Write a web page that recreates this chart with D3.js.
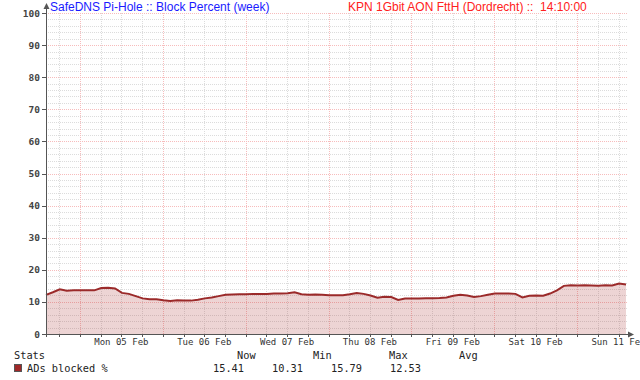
<!DOCTYPE html>
<html><head><meta charset="utf-8">
<script src="https://cdn.jsdelivr.net/npm/d3@7"></script>
<style>body{margin:0;background:#fff}svg{display:block}text{white-space:pre}</style>
</head><body>
<svg id="c" width="640" height="380"></svg>
<script>
const titleLeft = "SafeDNS Pi-Hole :: Block Percent (week)";
const titleRight = "KPN 1Gbit AON FttH (Dordrecht) ::  14:10:00";
const startTime = "2024-02-04T14:10:00Z";
const endTime = "2024-02-11T14:10:00Z";
const stepHours = 2;
// ADs blocked %, one reading every 2 hours from start
const blocked = [12.2,13.0,13.9,13.5,13.6,13.6,13.6,13.6,14.3,14.4,14.2,12.8,12.5,11.8,11.1,10.8,10.8,10.5,10.3,10.5,10.4,10.4,10.7,11.1,11.4,11.8,12.2,12.3,12.4,12.4,12.5,12.5,12.5,12.6,12.6,12.7,13.0,12.4,12.2,12.3,12.2,12.1,12.1,12.1,12.4,12.8,12.5,12.0,11.3,11.6,11.5,10.6,11.05,11.05,11.05,11.1,11.1,11.2,11.4,11.9,12.2,12.0,11.5,11.8,12.2,12.6,12.6,12.6,12.5,11.4,11.9,12.0,11.9,12.6,13.6,15.0,15.2,15.1,15.2,15.1,15.0,15.2,15.1,15.7,15.4];
const yTicks = [0,10,20,30,40,50,60,70,80,90,100];
const statHeaders = ["Now","Min","Max","Avg"];
const statValues = ["15.41","10.31","15.79","12.53"];
const legendLabel = "ADs blocked %";

const svg = d3.select("#c");
const L=46, R=626, T=13, B=334;
const t0 = new Date(startTime), t1 = new Date(endTime);
const x = d3.scaleUtc().domain([t0,t1]).range([L,R]);
const y = d3.scaleLinear().domain([0,100]).range([B,T]);
const data = blocked.map((v,i)=>({t:new Date(t0.getTime()+i*stepHours*3600e3), v}));

const mono = "DejaVu Sans Mono";
const minorCol = "#dcdcdc", majorCol = "#f7bcbc";
// grid
const g = svg.append("g");
const minorY = d3.range(0,101,2).filter(v=>v%10!==0);
g.selectAll(".my").data(minorY).join("line")
 .attr("x1",L).attr("x2",R+1).attr("y1",d=>Math.round(y(d))+0.5).attr("y2",d=>Math.round(y(d))+0.5)
 .attr("stroke",minorCol).attr("stroke-dasharray","1,1");
const minorX = d3.utcHour.every(6).range(t0,t1).filter(d=>d.getUTCHours()!==0);
g.selectAll(".mx").data(minorX).join("line")
 .attr("x1",d=>Math.round(x(d))+0.5).attr("x2",d=>Math.round(x(d))+0.5).attr("y1",T).attr("y2",B)
 .attr("stroke",minorCol).attr("stroke-dasharray","1,1");
g.selectAll(".My").data(yTicks.filter(v=>v>0)).join("line")
 .attr("x1",L).attr("x2",R+1).attr("y1",d=>Math.round(y(d))+0.5).attr("y2",d=>Math.round(y(d))+0.5)
 .attr("stroke",majorCol).attr("stroke-dasharray","1,1");
const majorX = d3.utcDay.range(t0,t1);
g.selectAll(".Mx").data(majorX).join("line")
 .attr("x1",d=>Math.round(x(d))+0.5).attr("x2",d=>Math.round(x(d))+0.5).attr("y1",T).attr("y2",B)
 .attr("stroke",majorCol).attr("stroke-dasharray","1,1");

// area + line
svg.append("path").datum(data)
 .attr("d",d3.area().x(d=>x(d.t)).y0(B).y1(d=>y(d.v)))
 .attr("fill","rgba(165,40,40,0.2)");
svg.append("path").datum(data)
 .attr("d",d3.line().x(d=>x(d.t)).y(d=>y(d.v)))
 .attr("fill","none").attr("stroke","#9b2a2a").attr("stroke-width",2);

// axes
const ax = svg.append("g").attr("stroke","#555").attr("fill","none");
ax.append("line").attr("x1",L+0.5).attr("x2",L+0.5).attr("y1",B+3).attr("y2",6);
ax.append("line").attr("x1",L-3).attr("x2",R+3).attr("y1",B+0.5).attr("y2",B+0.5);
svg.append("path").attr("d",`M${L-2.5},9 L${L+0.5},3 L${L+3.5},9 Z`).attr("fill","#555");
svg.append("path").attr("d",`M${R+2},${B-2.5} L${R+8},${B+0.5} L${R+2},${B+3.5} Z`).attr("fill","#555");
// y ticks
svg.append("g").selectAll("line").data(yTicks).join("line")
 .attr("x1",L-4).attr("x2",L).attr("y1",d=>Math.round(y(d))+0.5).attr("y2",d=>Math.round(y(d))+0.5)
 .attr("stroke","#555");
svg.append("g").selectAll("text").data(yTicks).join("text")
 .attr("x",L-6).attr("y",d=>y(d)+3.5).attr("text-anchor","end")
 .attr("font-family",mono).attr("font-size",9.5).attr("fill","#444").attr("font-weight","bold")
 .text(d=>d);
// x ticks
svg.append("g").selectAll("line").data(minorX.concat(majorX)).join("line")
 .attr("x1",d=>Math.round(x(d))+0.5).attr("x2",d=>Math.round(x(d))+0.5).attr("y1",B).attr("y2",B+3)
 .attr("stroke","#555");
const labelT = d3.utcHour.every(12).range(t0,t1).filter(d=>d.getUTCHours()===12);
svg.append("g").selectAll("text").data(labelT).join("text")
 .attr("x",d=>x(d)).attr("y",345).attr("text-anchor","middle")
 .attr("font-family",mono).attr("font-size",9).attr("fill","#333")
 .text(d3.utcFormat("%a %d %b"));

// titles
svg.append("text").attr("x",50).attr("y",11).attr("font-family","Liberation Sans").attr("font-size",12)
 .attr("fill","#1a1aff").text(titleLeft);
svg.append("text").attr("x",348).attr("y",11).attr("font-family","Liberation Sans").attr("font-size",12)
 .attr("fill","#ff2020").text(titleRight);

// legend/stats
const st = svg.append("g").attr("font-family",mono).attr("font-size",10.3).attr("fill","#222");
st.append("text").attr("x",14).attr("y",359).text("Stats");
const hdrX = [237,313,389,459];
st.selectAll(".h").data(statHeaders).join("text").attr("x",(d,i)=>hdrX[i]).attr("y",359).text(d=>d);
svg.append("rect").attr("x",14.5).attr("y",364.5).attr("width",7).attr("height",7)
 .attr("fill","#a02828").attr("stroke","#555");
st.append("text").attr("x",27).attr("y",372).text(legendLabel);
const valX = [213,272,331,390];
st.selectAll(".v").data(statValues).join("text").attr("x",(d,i)=>valX[i]).attr("y",372).text(d=>d);
</script>
</body></html>
